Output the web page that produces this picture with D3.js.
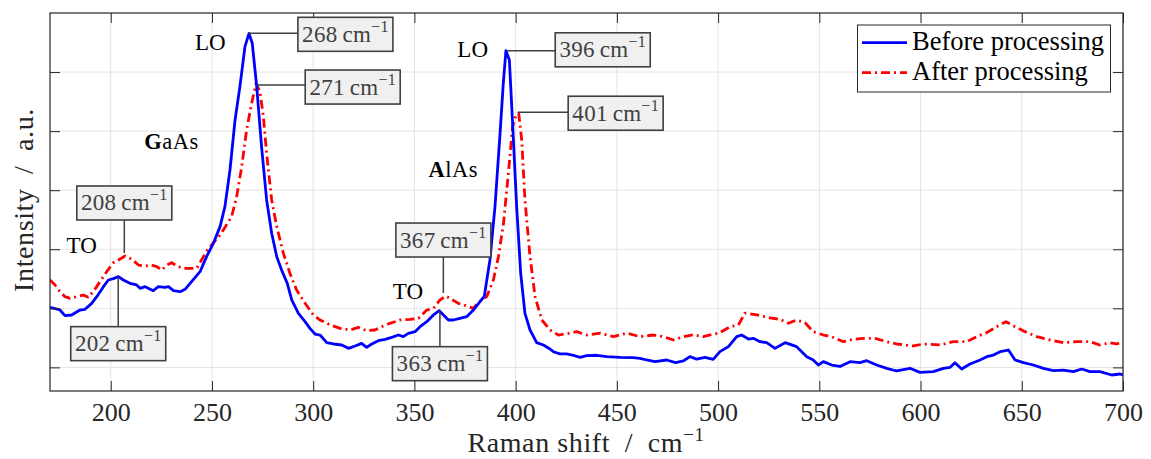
<!DOCTYPE html>
<html><head><meta charset="utf-8">
<script src="https://cdn.jsdelivr.net/npm/d3@7/dist/d3.min.js"></script>
<style>
body{margin:0;background:#fff;}
svg{display:block;font-family:"Liberation Serif","Times New Roman",serif;}
</style>
</head><body>
<svg id="chart" width="1151" height="459"></svg>
<script>
// ---------- data ----------
const xTicks = [200, 250, 300, 350, 400, 450, 500, 550, 600, 650, 700];
const yTicks = [1, 2, 3, 4, 5, 6];

const beforeShift = [170,174.9,177.4,180.7,184.8,187.3,190.6,193.1,196.4,198.8,201.3,203.8,206.2,209.5,212.8,214.5,217,221,223.5,226.8,228.5,231,234.3,236.7,239.2,241.7,244.1,247.4,250.7,254,256.4,258.9,261.4,263.8,266.3,268.3,269.9,272.1,274.5,277,279.5,282,284.4,287.2,289.4,292.7,296,298.4,300.9,303.4,306.7,310,314.1,317.4,320.7,323.9,326.4,328.9,332.2,335.5,338.8,342.1,344.5,347,350.3,352.8,356.1,359.4,362.3,364.3,366.8,369.2,372.5,375.8,379.1,382.4,384.5,387.3,389.8,392.3,393.9,395.2,396.9,398.5,400.5,402.5,404.6,407.1,410.4,413.7,417,419,421.9,425.2,428.5,431.8,435.1,440,445,451.5,458.1,461.4,464.7,468.8,474.6,479,482.8,486.1,489.4,493.5,497.6,500.9,505.1,509.2,511.6,515,517.4,520.7,524,528.1,533.1,538.8,543.8,547,549.5,552,556.1,560.2,565.2,570.1,573.4,578.3,583.3,588.2,594.8,599.7,606.3,611.3,614.6,617,620.3,624.4,629.4,632.7,636,639.3,643.4,646.7,650.8,655.7,660.7,665.6,670.5,675.5,679.6,683.7,688.6,694.4,698.5,700];
const beforeIntensity = [2.016,1.972,1.875,1.887,1.971,1.983,2.084,2.197,2.366,2.479,2.502,2.536,2.479,2.423,2.395,2.338,2.366,2.299,2.366,2.355,2.366,2.299,2.282,2.321,2.423,2.524,2.62,2.88,3.1,3.383,3.721,4.342,5.189,5.753,6.431,6.656,6.487,5.753,4.737,3.834,3.27,2.875,2.649,2.423,2.141,1.915,1.774,1.661,1.565,1.548,1.42,1.396,1.379,1.322,1.362,1.407,1.339,1.396,1.452,1.475,1.509,1.548,1.52,1.576,1.605,1.689,1.774,1.887,1.96,1.887,1.802,1.802,1.83,1.858,1.971,2.112,2.2,2.818,3.721,4.963,5.809,6.362,6.204,5.132,3.721,2.592,1.915,1.633,1.42,1.379,1.31,1.26,1.23,1.227,1.205,1.17,1.2,1.205,1.181,1.17,1.165,1.153,1.125,1.097,1.125,1.082,1.108,1.181,1.14,1.17,1.136,1.266,1.351,1.52,1.548,1.48,1.492,1.435,1.418,1.322,1.418,1.351,1.181,1.125,1.04,1.097,1.04,1.015,1.097,1.08,1.113,1.04,0.984,0.939,0.984,0.916,0.927,0.984,1.001,1.08,0.972,1.057,1.125,1.181,1.209,1.266,1.294,1.125,1.08,1.04,0.984,0.944,0.955,0.927,0.972,0.927,0.927,0.871,0.888,0.871];

const afterShift = [170,172.5,174.9,177.4,179.9,183.2,186.5,188.9,191.4,194.7,198,201.3,203.8,207.1,210.4,213.7,217,220.2,222.7,225.2,227.7,230.1,232.6,235.9,239.2,242.5,245,247.4,250.7,254,255.6,259.7,262.2,264.7,267.1,269.6,271.8,273.7,275.4,277,279.5,282,285.3,288.5,291.8,296,300.1,303.4,308.3,313.3,318.2,322.3,326.4,330.5,334.6,337.9,342.9,347.8,352,356.1,359.4,362.6,365.6,368.4,371.7,375.8,379.1,381.6,385.7,389,391.5,394,396.4,398.5,400.2,401.5,403,404.6,407.1,409.6,412.9,417,421.1,426.9,430.1,435.1,441.7,448.3,454.8,461.4,468,473,477.9,482.8,487.8,492.7,497.6,501,505.9,510,513.3,519.1,525.6,530.6,534.7,538.8,542.9,547,552,555.3,561.9,566.8,571.7,577.5,583.3,588.2,596.4,601.4,609.6,616.2,622.8,627.7,632.7,637.6,642.2,646.7,651.6,657.4,664,670.5,677.1,683.7,688.6,693.6,696.9,700];
const afterIntensity = [2.479,2.395,2.282,2.197,2.169,2.197,2.225,2.186,2.282,2.451,2.62,2.773,2.818,2.886,2.829,2.733,2.716,2.733,2.705,2.648,2.733,2.773,2.716,2.677,2.677,2.677,2.829,2.97,3.11,3.241,3.326,3.552,3.891,4.399,5.019,5.471,5.81,5.669,5.245,4.624,3.834,3.383,2.931,2.593,2.31,2.085,1.887,1.802,1.72,1.661,1.633,1.678,1.621,1.633,1.7,1.746,1.802,1.813,1.83,1.971,1.999,2.141,2.208,2.152,2.084,2.039,2.0,2.1,2.197,2.479,2.874,3.439,4.285,5.076,5.273,5.301,4.85,3.834,2.874,2.197,1.802,1.633,1.548,1.58,1.605,1.548,1.58,1.52,1.58,1.52,1.548,1.52,1.463,1.52,1.55,1.52,1.56,1.59,1.689,1.717,1.92,1.887,1.84,1.813,1.746,1.802,1.757,1.605,1.548,1.53,1.435,1.475,1.492,1.492,1.435,1.396,1.362,1.396,1.379,1.435,1.435,1.52,1.588,1.689,1.774,1.689,1.605,1.52,1.463,1.418,1.435,1.435,1.379,1.418,1.396,1.435];

const seriesNames = ["Before processing", "After processing"];

// peak annotations: label value, marker shift, marker intensity
const peakLabels = ["268", "271", "396", "401", "208", "202", "367", "363"];
const peakShift = [268.0, 272.1, 395.6, 401.0, 206.7, 203.7, 364.3, 362.6];
const peakIntensity = [6.656, 5.78, 6.36, 5.32, 2.886, 2.536, 2.208, 1.96];

// mode labels
const modeText = ["LO", "LO", "TO", "TO"];
const modeShift = [241.6, 371.2, 178.2, 339.3];
const modeIntensity = [6.374, 6.26, 2.93, 2.158];
const materialText = [["G","aAs"], ["A","lAs"]];
const materialShift = [216.6, 356.9];
const materialIntensity = [4.698, 4.229];

// ---------- layout ----------
const M = {left: 50, right: 1123, top: 13, bottom: 391};
const svg = d3.select("#chart");
const x = d3.scaleLinear().domain([170, 700]).range([M.left, M.right]);
const y = d3.scaleLinear().domain([0.6, 7]).range([M.bottom, M.top]);
const axisColor = "#262626";
const FONT = "Liberation Serif";

svg.append("defs").append("clipPath").attr("id","clip")
  .append("rect").attr("x",M.left).attr("y",M.top).attr("width",M.right-M.left).attr("height",M.bottom-M.top);

// grid
const grid = svg.append("g").attr("stroke","#e3e3e3").attr("stroke-width",1);
grid.selectAll("line.vx").data(xTicks).join("line")
  .attr("x1",d=>x(d)).attr("x2",d=>x(d)).attr("y1",M.top).attr("y2",M.bottom);
grid.selectAll("line.hy").data(yTicks).join("line")
  .attr("y1",d=>y(d)).attr("y2",d=>y(d)).attr("x1",M.left).attr("x2",M.right);

// lines
const lineGen = (xs, ys) => d3.line().x((d,i)=>x(xs[i])).y((d,i)=>y(ys[i]))(xs);
const plot = svg.append("g").attr("clip-path","url(#clip)");
plot.append("path").attr("d", lineGen(afterShift, afterIntensity))
  .attr("fill","none").attr("stroke","#ff0000").attr("stroke-width",2.8)
  .attr("stroke-dasharray","9,4,2,4").attr("stroke-linejoin","round");
plot.append("path").attr("d", lineGen(beforeShift, beforeIntensity))
  .attr("fill","none").attr("stroke","#0000ff").attr("stroke-width",2.8)
  .attr("stroke-linejoin","round");

// axes
function styleAxis(g){
  g.selectAll(".domain").remove();
  g.selectAll(".tick line").attr("stroke",axisColor).attr("stroke-width",1);
}
svg.append("g").attr("transform",`translate(0,${M.bottom})`)
  .call(d3.axisBottom(x).tickValues(xTicks).tickSize(-10).tickPadding(12).tickFormat(d3.format("d")))
  .call(styleAxis)
  .call(g=>g.attr("font-family",FONT).attr("font-size",26))
  .call(g=>g.selectAll("text").attr("font-family",FONT).attr("font-size",26).attr("fill",axisColor).attr("dy","0.71em"));
svg.append("g").attr("transform",`translate(0,${M.top})`)
  .call(d3.axisTop(x).tickValues(xTicks).tickSize(-10).tickFormat("")).call(styleAxis);
svg.append("g").attr("transform",`translate(${M.left},0)`)
  .call(d3.axisLeft(y).tickValues(yTicks).tickSize(-10).tickFormat("")).call(styleAxis);
svg.append("g").attr("transform",`translate(${M.right},0)`)
  .call(d3.axisRight(y).tickValues(yTicks).tickSize(-10).tickFormat("")).call(styleAxis);
svg.append("rect").attr("x",M.left).attr("y",M.top).attr("width",M.right-M.left).attr("height",M.bottom-M.top)
  .attr("fill","none").attr("stroke",axisColor).attr("stroke-width",1.2);

// axis titles
const xt = svg.append("text").attr("x",586).attr("y",452).attr("text-anchor","middle")
  .attr("font-family",FONT).attr("font-size",28).attr("letter-spacing",0.6).attr("fill",axisColor);
xt.append("tspan").text("Raman shift\u2002/\u2002cm");
xt.append("tspan").attr("dy",-11).attr("font-size",19).text("\u22121");
svg.append("text").attr("transform","translate(33,200) rotate(-90)").attr("text-anchor","middle")
  .attr("font-family",FONT).attr("font-size",28).attr("letter-spacing",0.6).attr("fill",axisColor)
  .text("Intensity\u2002/\u2002a.u.");

// mode labels
svg.selectAll("text.mode").data(modeText).join("text").attr("class","mode")
  .attr("x",(d,i)=>x(modeShift[i])).attr("y",(d,i)=>y(modeIntensity[i]))
  .attr("font-family",FONT).attr("font-size",23).attr("fill","#000").text(d=>d);
const mats = svg.selectAll("text.mat").data(materialText).join("text").attr("class","mat")
  .attr("x",(d,i)=>x(materialShift[i])).attr("y",(d,i)=>y(materialIntensity[i]))
  .attr("font-family",FONT).attr("font-size",22.5).attr("letter-spacing",0.5).attr("fill","#000");
mats.append("tspan").attr("font-weight","bold").text(d=>d[0]);
mats.append("tspan").text(d=>d[1]);

// annotations (box centre offset in px from marker)
const annoOffset = [[97,1],[96,2],[96,-1],[98,1],[0,-53],[0,67],[0,-56],[0,53]];
const boxW = 95, boxH = 34;
peakLabels.forEach((lab,i)=>{
  const ax = x(peakShift[i]), ay = y(peakIntensity[i]);
  const cx = ax + annoOffset[i][0], cy = ay + annoOffset[i][1];
  const g = svg.append("g");
  if (annoOffset[i][0] !== 0) {
    g.append("line").attr("x1",ax).attr("y1",ay).attr("x2",cx-boxW/2).attr("y2",ay)
      .attr("stroke","#404040").attr("stroke-width",1.5);
  } else {
    const edge = annoOffset[i][1] < 0 ? cy + boxH/2 : cy - boxH/2;
    const end = annoOffset[i][1] < 0 ? ay - 3 : ay;
    g.append("line").attr("x1",ax).attr("y1",end).attr("x2",ax).attr("y2",edge)
      .attr("stroke","#404040").attr("stroke-width",1.5);
  }
  g.append("rect").attr("x",cx-boxW/2).attr("y",cy-boxH/2).attr("width",boxW).attr("height",boxH)
    .attr("fill","#f0f0f0").attr("stroke","#404040").attr("stroke-width",1.6);
  const t = g.append("text").attr("x",cx).attr("y",cy+7.5).attr("text-anchor","middle")
    .attr("font-family",FONT).attr("font-size",23).attr("letter-spacing",0.3).attr("fill","#404040");
  t.append("tspan").text(lab+"\u2009cm");
  t.append("tspan").attr("dy",-10).attr("font-size",16).text("\u22121");
});

// legend
const lg = svg.append("g");
lg.append("rect").attr("x",857.5).attr("y",25).attr("width",253).attr("height",67)
  .attr("fill","#fff").attr("stroke",axisColor).attr("stroke-width",1);
const legColors = ["#0000ff","#ff0000"], legDash = [null,"9,4,2,4"];
seriesNames.forEach((n,i)=>{
  const yy = 42.7 + i*30;
  lg.append("line").attr("x1",862).attr("x2",907).attr("y1",yy).attr("y2",yy)
    .attr("stroke",legColors[i]).attr("stroke-width",2.8).attr("stroke-dasharray",legDash[i]);
  lg.append("text").attr("x",912).attr("y",yy+7.5).attr("font-family",FONT).attr("font-size",26.5).attr("fill","#000").text(n);
});
</script>
</body></html>
